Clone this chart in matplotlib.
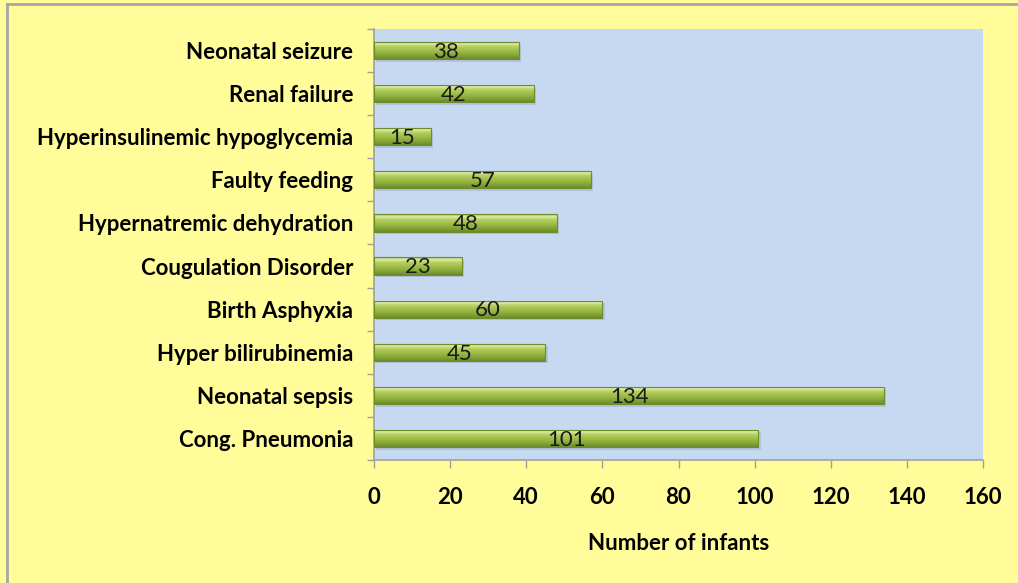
import matplotlib as mpl
mpl.use('Agg')
import matplotlib.pyplot as plt
from matplotlib import colors
import numpy as np

# data, top to bottom as shown in the chart
conditions = ['Neonatal seizure', 'Renal failure', 'Hyperinsulinemic hypoglycemia',
              'Faulty feeding', 'Hypernatremic dehydration', 'Cougulation Disorder',
              'Birth Asphyxia', 'Hyper bilirubinemia', 'Neonatal sepsis',
              'Cong. Pneumonia']
infants = [38, 42, 15, 57, 48, 23, 60, 45, 134, 101]
xticks = [0, 20, 40, 60, 80, 100, 120, 140, 160]

YELLOW = '#FFFC99'
BLUE = '#C6D9F1'
FONT = 'Lato'
FS = 16

BAR_CMAP = colors.LinearSegmentedColormap.from_list(
    'bar', [(0.0, '#6F8C2C'), (0.35, '#93B43F'), (0.7, '#B5D05F'),
            (0.85, '#DDEBA6'), (1.0, '#A9C552')])

fig = plt.figure(figsize=(10.18, 5.83), dpi=100, facecolor=YELLOW)
ax = fig.add_axes([374/1018, 1 - 460/583, (983 - 374)/1018, (460 - 29)/583])
ax.set_facecolor(BLUE)

# outer frame (only left and top visible in the original)
fig.add_artist(plt.Line2D([7/1018, 7/1018], [0, 1 - 4/583], transform=fig.transFigure,
                          color='#A6A6A6', lw=2))
fig.add_artist(plt.Line2D([7/1018, 1], [1 - 4/583, 1 - 4/583], transform=fig.transFigure,
                          color='#A6A6A6', lw=2))

n = len(conditions)
ypos = np.arange(n)[::-1]
h = 0.4

# soft shadow under each bar
ax.barh(ypos - 0.06, infants, height=h, left=0.6, color='#8A9AB0', alpha=0.35,
        zorder=1, linewidth=0)
bars = ax.barh(ypos, infants, height=h, color='none', edgecolor='#6F8C2C',
               linewidth=0.8, zorder=3)

grad = np.linspace(0, 1, 64).reshape(-1, 1)
for b in bars:
    x0, y0, w, hh = b.get_x(), b.get_y(), b.get_width(), b.get_height()
    im = ax.imshow(grad, cmap=BAR_CMAP, aspect='auto', origin='lower',
                   extent=[x0, x0 + w, y0, y0 + hh], zorder=2)
    im.set_clip_path(b)

for y, v in zip(ypos, infants):
    ax.text(v / 2, y - 0.03, str(v), ha='center', va='center', fontsize=FS,
            family=FONT, color='#1A1A1A', zorder=4)

ax.set_xlim(0, 160)
ax.set_ylim(-0.5, n - 0.5)
ax.set_xticks(xticks)
ax.set_xticklabels([str(t) for t in xticks], fontsize=FS, fontweight='bold', family=FONT)
ax.set_yticks(ypos)
ax.set_yticklabels(conditions, fontsize=FS, fontweight='bold', family=FONT)
ax.set_yticks(np.arange(n + 1) - 0.5, minor=True)
ax.tick_params(axis='y', which='major', length=0, pad=15)
ax.tick_params(axis='y', which='minor', length=5, color='#A0A0A0', width=1)
ax.tick_params(axis='x', length=6, color='#A0A0A0', width=1, pad=13.5)

for s in ['top', 'right']:
    ax.spines[s].set_visible(False)
for s in ['left', 'bottom']:
    ax.spines[s].set_color('#A0A0A0')
    ax.spines[s].set_linewidth(1.2)

ax.set_xlabel('Number of infants', fontsize=FS, fontweight='bold', family=FONT, labelpad=18)

fig.savefig('out.png', dpi=100, facecolor=YELLOW)
